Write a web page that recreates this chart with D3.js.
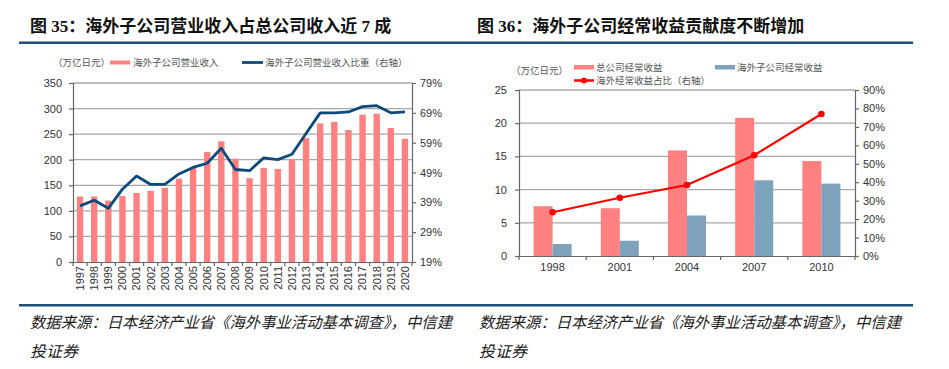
<!DOCTYPE html>
<html>
<head>
<meta charset="utf-8">
<script src="https://cdn.jsdelivr.net/npm/d3@7"></script>
<style>
body { margin:0; background:#fff; }
svg { display:block; }
.title { font-family:"Liberation Serif","Noto Sans CJK SC",serif; font-weight:bold; font-size:17px; fill:#111; }
.legend { font-family:"Noto Sans CJK SC",sans-serif; font-size:9.5px; fill:#555; }
.tick-lbl { font-family:"Liberation Sans",Arial,sans-serif; font-size:11px; fill:#333; }
.note { font-family:"Noto Sans CJK SC",sans-serif; font-style:italic; font-size:15.5px; fill:#222; }
</style>
</head>
<body>
<div id="chart-area"></div>
<script>
// 图35 data
var years35 = ["1997","1998","1999","2000","2001","2002","2003","2004","2005","2006","2007","2008",
               "2009","2010","2011","2012","2013","2014","2015","2016","2017","2018","2019","2020"];
var revenue35 = [128,128,120,129,135,139,145,163,185,215,236,202,
                 164,184,182,201,242,271,274,258,288,290,262,241];
var share35 = [37.8,39.7,37.0,43.4,47.8,45.0,45.0,48.5,50.7,52.1,57.1,50.0,
               49.6,53.9,53.3,55.1,62.1,69.0,69.0,69.3,71.1,71.4,69.0,69.3];
var leftTicks35 = [0,50,100,150,200,250,300,350];
var rightTicks35 = [19,29,39,49,59,69,79];

// 图36 data
var years36 = ["1998","2001","2004","2007","2010"];
var parent36 = [7.5,7.2,15.9,20.8,14.3];
var overseas36 = [1.8,2.3,6.1,11.4,10.9];
var ratio36 = [23.7,31.6,38.5,54.6,77.0];
var leftTicks36 = [0,5,10,15,20,25];
var rightTicks36 = [0,10,20,30,40,50,60,70,80,90];

var pink = "#ff8080", navy = "#0d4a7c", steel = "#7fa2bc", red = "#ff0000";
var grid = "#a8a8a8", axisCol = "#666";

var svg = d3.select('#chart-area').append('svg')
            .attr("width",949)
            .attr("height",369);

// rules
svg.append("rect").attr("x",19).attr("y",41.5).attr("width",894).attr("height",2.5).attr("fill","#1f4e79");
svg.append("rect").attr("x",19).attr("y",304).attr("width",894).attr("height",2.5).attr("fill","#1f4e79");

// titles
svg.append("text").attr("class","title").attr("x",30).attr("y",32).text("图 35：海外子公司营业收入占总公司收入近 7 成");
svg.append("text").attr("class","title").attr("x",477).attr("y",32).text("图 36：海外子公司经常收益贡献度不断增加");

// footnotes
[30,479].forEach(function(fx){
  svg.append("text").attr("class","note").attr("x",fx).attr("y",328)
     .attr("textLength",422).attr("lengthAdjust","spacingAndGlyphs")
     .text("数据来源：日本经济产业省《海外事业活动基本调查》，中信建");
  svg.append("text").attr("class","note").attr("x",fx).attr("y",357)
     .attr("textLength",48).attr("lengthAdjust","spacingAndGlyphs")
     .text("投证券");
});

function styleAxis(g){
  g.select(".domain").attr("stroke",axisCol).attr("stroke-width",1.2);
  g.selectAll(".tick line").attr("stroke",axisCol).attr("stroke-width",1.2);
  g.selectAll(".tick text").attr("class","tick-lbl").attr("fill",null);
}

// ---------- 图35 ----------
(function(){
  var L = 73, R = 412, T = 83, B = 262;
  var x = d3.scaleBand().domain(years35).range([L,R]);
  var y = d3.scaleLinear().domain([0,350]).range([B,T]);
  var y2 = d3.scaleLinear().domain([19,79]).range([B,T]);

  // grid
  svg.append("g").selectAll("line").data(leftTicks35.slice(1)).enter().append("line")
     .attr("x1",L).attr("x2",R).attr("y1",d => y(d)).attr("y2",d => y(d))
     .attr("stroke",grid).attr("stroke-width",1.3);

  // bars
  svg.append("g").selectAll("rect").data(revenue35).enter().append("rect")
     .attr("x",(d,i) => x(years35[i]) + x.bandwidth()/2 - 3.2)
     .attr("width",6.4)
     .attr("y",d => y(d))
     .attr("height",d => B - y(d))
     .attr("fill",pink);

  // axes
  var gl = svg.append("g").attr("transform","translate("+L+",0)")
     .call(d3.axisLeft(y).tickValues(leftTicks35).tickSize(4).tickPadding(7));
  styleAxis(gl);
  var gr = svg.append("g").attr("transform","translate("+R+",0)")
     .call(d3.axisRight(y2).tickValues(rightTicks35).tickSize(4).tickPadding(4).tickFormat(d => d+"%"));
  styleAxis(gr);
  var gb = svg.append("g").attr("transform","translate(0,"+B+")")
     .call(d3.axisBottom(x).tickSize(0).tickPadding(0));
  styleAxis(gb);
  gb.selectAll(".tick text")
    .attr("transform","rotate(-90)")
    .attr("text-anchor","end")
    .attr("x",-4).attr("y",0).attr("dy","0.35em");
  // band boundary ticks
  gb.selectAll(".bt").data(years35.concat(["end"])).enter().append("line")
    .attr("x1",(d,i) => i < years35.length ? x(d) : R)
    .attr("x2",(d,i) => i < years35.length ? x(d) : R)
    .attr("y1",0).attr("y2",4).attr("stroke",axisCol).attr("stroke-width",1.2);

  // line
  var line = d3.line().x((d,i) => x(years35[i]) + x.bandwidth()/2).y(d => y2(d));
  svg.append("path").datum(share35).attr("d",line)
     .attr("fill","none").attr("stroke",navy).attr("stroke-width",2.8).attr("stroke-linejoin","round");

  // legend
  svg.append("text").attr("class","legend").attr("x",53).attr("y",66).text("（万亿日元）");
  svg.append("rect").attr("x",110).attr("y",60.5).attr("width",20).attr("height",4).attr("fill",pink);
  svg.append("text").attr("class","legend").attr("x",133).attr("y",66).text("海外子公司营业收入");
  svg.append("line").attr("x1",242).attr("x2",263).attr("y1",62.5).attr("y2",62.5).attr("stroke",navy).attr("stroke-width",2.8);
  svg.append("text").attr("class","legend").attr("x",265).attr("y",66).text("海外子公司营业收入比重（右轴）");
})();

// ---------- 图36 ----------
(function(){
  var L = 519, R = 855, T = 90, B = 256;
  var x = d3.scaleBand().domain(years36).range([L,R]);
  var y = d3.scaleLinear().domain([0,25]).range([B,T]);
  var y2 = d3.scaleLinear().domain([0,90]).range([B,T]);
  var bw = 19;

  svg.append("g").selectAll("line").data(leftTicks36.slice(1)).enter().append("line")
     .attr("x1",L).attr("x2",R).attr("y1",d => y(d)).attr("y2",d => y(d))
     .attr("stroke",grid).attr("stroke-width",1.3);

  svg.append("g").selectAll("rect").data(parent36).enter().append("rect")
     .attr("x",(d,i) => x(years36[i]) + x.bandwidth()/2 - bw)
     .attr("width",bw).attr("y",d => y(d)).attr("height",d => B - y(d)).attr("fill",pink);
  svg.append("g").selectAll("rect").data(overseas36).enter().append("rect")
     .attr("x",(d,i) => x(years36[i]) + x.bandwidth()/2)
     .attr("width",bw).attr("y",d => y(d)).attr("height",d => B - y(d)).attr("fill",steel);

  var gl = svg.append("g").attr("transform","translate("+L+",0)")
     .call(d3.axisLeft(y).tickValues(leftTicks36).tickSize(4).tickPadding(8));
  styleAxis(gl);
  var gr = svg.append("g").attr("transform","translate("+R+",0)")
     .call(d3.axisRight(y2).tickValues(rightTicks36).tickSize(4).tickPadding(4).tickFormat(d => d+"%"));
  styleAxis(gr);
  var gb = svg.append("g").attr("transform","translate(0,"+B+")")
     .call(d3.axisBottom(x).tickSize(0).tickPadding(7));
  styleAxis(gb);
  gb.selectAll(".bt").data(years36.concat(["end"])).enter().append("line")
    .attr("x1",(d,i) => i < years36.length ? x(d) : R)
    .attr("x2",(d,i) => i < years36.length ? x(d) : R)
    .attr("y1",0).attr("y2",4).attr("stroke",axisCol).attr("stroke-width",1.2);

  var line = d3.line().x((d,i) => x(years36[i]) + x.bandwidth()/2).y(d => y2(d));
  svg.append("path").datum(ratio36).attr("d",line)
     .attr("fill","none").attr("stroke",red).attr("stroke-width",2.2);
  svg.append("g").selectAll("circle").data(ratio36).enter().append("circle")
     .attr("cx",(d,i) => x(years36[i]) + x.bandwidth()/2).attr("cy",d => y2(d))
     .attr("r",3.3).attr("fill",red);

  // legend
  svg.append("text").attr("class","legend").attr("x",511).attr("y",74).text("（万亿日元）");
  svg.append("rect").attr("x",574).attr("y",65).attr("width",20).attr("height",4.5).attr("fill",pink);
  svg.append("text").attr("class","legend").attr("x",596).attr("y",71).text("总公司经常收益");
  svg.append("rect").attr("x",715).attr("y",65).attr("width",20).attr("height",4.5).attr("fill",steel);
  svg.append("text").attr("class","legend").attr("x",737).attr("y",71).text("海外子公司经常收益");
  svg.append("line").attr("x1",574).attr("x2",594).attr("y1",80.5).attr("y2",80.5).attr("stroke",red).attr("stroke-width",2.5);
  svg.append("circle").attr("cx",584).attr("cy",80.5).attr("r",3).attr("fill",red);
  svg.append("text").attr("class","legend").attr("x",596).attr("y",84).text("海外经常收益占比（右轴）");
})();
</script>
</body>
</html>
